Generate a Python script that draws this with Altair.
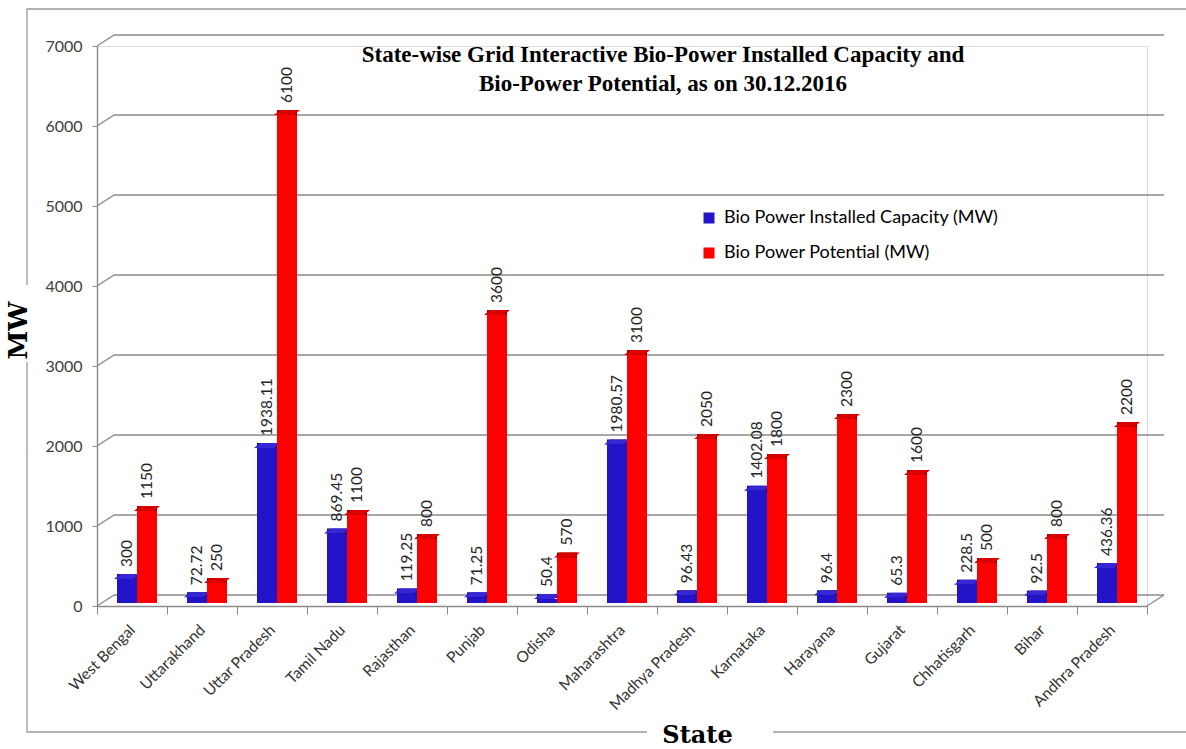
import altair as alt
import pandas as pd

# ---------------- data ----------------
states = ["West Bengal", "Uttarakhand", "Uttar Pradesh", "Tamil Nadu", "Rajasthan",
          "Punjab", "Odisha", "Maharashtra", "Madhya Pradesh", "Karnataka",
          "Harayana", "Gujarat", "Chhatisgarh", "Bihar", "Andhra Pradesh"]
installed = [300, 72.72, 1938.11, 869.45, 119.25, 71.25, 50.4, 1980.57, 96.43,
             1402.08, 96.4, 65.3, 228.5, 92.5, 436.36]
potential = [1150, 250, 6100, 1100, 800, 3600, 570, 3100, 2050, 1800, 2300,
             1600, 500, 800, 2200]
series_names = ["Bio Power Installed Capacity (MW)", "Bio Power Potential (MW)"]
y_ticks = [0, 1000, 2000, 3000, 4000, 5000, 6000, 7000]
title_lines = ["State-wise Grid  Interactive Bio-Power Installed  Capacity and",
               "Bio-Power Potential, as on 30.12.2016"]

rows = []
for s, a, b in zip(states, installed, potential):
    rows.append({"State": s, "Series": series_names[0], "MW": a})
    rows.append({"State": s, "Series": series_names[1], "MW": b})
df = pd.DataFrame(rows)
grid_df = pd.DataFrame({"v": y_ticks})

# ---------------- styles ----------------
BLUE, BLUE_SIDE, BLUE_TOP = "#2314c9", "#140a80", "#3526d6"
RED, RED_SIDE, RED_TOP = "#ff0000", "#9c0000", "#d90000"
GRID = "#8a8a8a"
SANS = "Lato"
DEPTH_X, DEPTH_Y = 17, -11
is_inst = alt.datum.Series == series_names[0]

x_enc = alt.X("State:N", sort=states,
              scale=alt.Scale(paddingInner=0, paddingOuter=0),
              axis=alt.Axis(title="State", titleFont="DejaVu Serif", titleFontSize=24,
                            titleFontWeight="bold", titleColor="black",
                            titleX=600, titleY=136, titleBaseline="alphabetic",
                            labelAngle=315, labelAlign="right", labelBaseline="middle",
                            labelFont=SANS, labelFontSize=15.5, labelColor="#333333",
                            labelPadding=13, tickBand="extent", tickSize=8,
                            tickColor=GRID, domainColor=GRID, domainWidth=1.4,
                            labelLimit=0, zindex=1))
xo_enc = alt.XOffset("Series:N", sort=series_names,
                     scale=alt.Scale(paddingInner=0, paddingOuter=0.75, align=0.667))
y_enc = alt.Y("MW:Q", scale=alt.Scale(domain=[0, 7000], nice=False),
              axis=alt.Axis(title="MW", values=y_ticks, format="d", grid=False,
                            titleFont="DejaVu Serif",
                            titleFontSize=26, titleFontWeight="bold", titleColor="black",
                            titleX=-79, titleY=284, titleAngle=270, titleAlign="center",
                            titleBaseline="middle",
                            labelFont=SANS, labelFontSize=16, labelColor="#404040",
                            labelPadding=10, tickSize=5, tickColor=GRID,
                            domainColor=GRID, domainWidth=1.4, zindex=1))

base = alt.Chart(df)

# outer frame with gaps behind axis titles
one = alt.Chart(grid_df).transform_filter(alt.datum.v == 0)
frame = one.mark_rect(fill=None, stroke="#9a9a9a", strokeWidth=1.3).encode(
    x=alt.value(-70), x2=alt.value(1100), y=alt.value(-37), y2=alt.value(686))
gap_x = one.mark_rect(fill="white").encode(
    x=alt.value(550), x2=alt.value(676), y=alt.value(680), y2=alt.value(694))
gap_y = one.mark_rect(fill="white").encode(
    x=alt.value(-76), x2=alt.value(-64), y=alt.value(239), y2=alt.value(316))

# pseudo-3D back grid and wall connectors
back_grid = alt.Chart(grid_df).mark_rule(
    color=GRID, strokeWidth=1.4, xOffset=DEPTH_X, x2Offset=DEPTH_X, yOffset=DEPTH_Y
).encode(y="v:Q", x=alt.value(0), x2=alt.value("width"))
wall = alt.Chart(grid_df).mark_rule(color=GRID, strokeWidth=1.4, y2Offset=DEPTH_Y).encode(
    x=alt.value(0), x2=alt.value(DEPTH_X), y="v:Q", y2="v:Q")
floor_edge = one.mark_rule(color=GRID, strokeWidth=1.4, x2Offset=DEPTH_X, y2Offset=DEPTH_Y
                           ).encode(x=alt.value("width"), x2=alt.value("width"), y="v:Q", y2="v:Q")

# bars: side faces, top faces, front faces
side = base.mark_bar(xOffset=6, yOffset=-8, y2Offset=-3).encode(
    x=x_enc, xOffset=xo_enc, y=y_enc,
    color=alt.condition(is_inst, alt.value(BLUE_SIDE), alt.value(RED_SIDE)))
top_path = "M -1 0 L 0.538 0 L 1 -0.385 L -0.538 -0.385 Z"
top = base.mark_point(shape=top_path, size=676, filled=True, opacity=1, strokeWidth=0,
                      xOffset=3, yOffset=-3).encode(
    x=x_enc, xOffset=xo_enc, y=y_enc,
    color=alt.condition(is_inst, alt.value(BLUE_TOP), alt.value(RED_TOP)))
front = base.mark_bar(yOffset=-3, y2Offset=-3).encode(
    x=x_enc, xOffset=xo_enc, y=y_enc,
    color=alt.Color("Series:N", sort=series_names,
                    scale=alt.Scale(domain=series_names, range=[BLUE, RED]),
                    legend=alt.Legend(title=None, orient="none", legendX=603, legendY=163,
                                      symbolType="square", symbolSize=121,
                                      symbolStrokeWidth=0, labelFont=SANS,
                                      labelFontSize=18, labelColor="black",
                                      rowPadding=17, labelOffset=6, padding=0,
                                      labelLimit=0)))
labels = base.mark_text(angle=270, align="left", baseline="middle", dx=12, yOffset=-3,
                        font=SANS, fontSize=15.5, color="#262626").encode(
    x=x_enc, xOffset=xo_enc, y=y_enc, text=alt.Text("MW:Q", format=".2~f"))

chart = alt.layer(frame, gap_x, gap_y, back_grid, wall, floor_edge, side, top, front, labels).properties(
    width=1050, height=560,
    title=alt.TitleParams(text=title_lines, font="Liberation Serif", fontSize=23,
                          fontWeight="bold", color="black", anchor="middle", frame="group",
                          dx=41, offset=-88, lineHeight=29),
    autosize=alt.AutoSizeParams(type="none"),
    padding={"left": 97, "top": 46, "right": 39, "bottom": 143},
).configure_view(stroke=None).configure(background="white")

chart.save("out.html", embed_options={"renderer": "svg", "actions": False})
